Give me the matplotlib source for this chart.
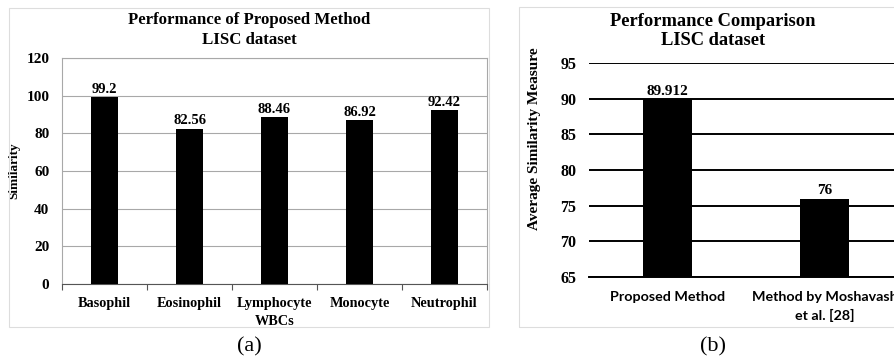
import numpy as np
import matplotlib.pyplot as plt
from matplotlib.patches import Rectangle

# dados
cells = ['Basophil', 'Eosinophil', 'Lymphocyte', 'Monocyte', 'Neutrophil']
similarity = [99.2, 82.56, 88.46, 86.92, 92.42]
sim_labels = ['99.2', '82.56', '88.46', '86.92', '92.42']

methods = ['Proposed Method', 'Method by Moshavash\net al. [28]']
avg_similarity = [89.912, 76]
avg_labels = ['89.912', '76']

serif = 'Liberation Serif'

fig = plt.figure(figsize=(8.95, 3.62), dpi=100)

# molduras cinzentas das duas figuras
fig.patches.append(Rectangle((9/895., 1-327/362.), 480/895., 319/362., transform=fig.transFigure,
                             fill=False, edgecolor='#DDDDDD', lw=0.8))
fig.patches.append(Rectangle((519/895., 1-327/362.), 400/895., 320/362., transform=fig.transFigure,
                             fill=False, edgecolor='#DDDDDD', lw=0.8))

# (a) desempenho do metodo proposto
ax1 = fig.add_axes([62/895., 78/362., 425/895., 226/362.])
x = np.arange(len(cells))
ax1.bar(x, similarity, width=0.31, color='black', zorder=3)
for xi, v, s in zip(x, similarity, sim_labels):
    ax1.annotate(s, (xi, v), xytext=(0, 1), textcoords='offset points', ha='center', va='bottom',
                 fontsize=10.5, fontweight='bold', family=serif)
ax1.set_xlim(-0.5, 4.5)
ax1.set_ylim(0, 120)
ax1.set_yticks(np.arange(0, 121, 20))
ax1.grid(axis='y', color='#A8A8A8', lw=0.8, zorder=0)
ax1.set_xticks(np.arange(-0.5, 5, 1))
ax1.set_xticklabels([])
ax1.set_xticks(x, minor=True)
ax1.set_xticklabels(cells, minor=True, fontsize=10.3, fontweight='bold', family=serif)
ax1.tick_params(axis='x', which='major', length=4, color='#555555', direction='out')
ax1.tick_params(axis='x', which='minor', length=0, pad=9)
ax1.tick_params(axis='y', length=0, pad=9)
for lab in ax1.get_yticklabels():
    lab.set_fontsize(11)
    lab.set_fontweight('bold')
    lab.set_family(serif)
for sp in ax1.spines.values():
    sp.set_color('#A8A8A8')
    sp.set_linewidth(0.8)
ax1.spines['bottom'].set_color('#555555')
ax1.set_ylabel('Similarity', fontsize=9.5, fontweight='bold', family=serif)
ax1.yaxis.set_label_coords(-42/425., 0.5)
ax1.set_xlabel('WBCs', fontsize=10.3, fontweight='bold', family=serif, labelpad=4)

fig.text(249/895., 1-30/362., 'Performance of Proposed Method\nLISC dataset', ha='center', va='center',
         fontsize=12.1, fontweight='bold', family=serif, linespacing=1.25)
fig.text(249/895., 1-347/362., '(a)', ha='center', va='center', fontsize=16, family=serif)

# (b) comparacao
ax2 = fig.add_axes([589/895., 85/362., 314/895., 214/362.])
xb = np.arange(len(methods))
ax2.bar(xb, avg_similarity, width=0.31, color='black', zorder=3)
for xi, v, s in zip(xb, avg_similarity, avg_labels):
    ax2.annotate(s, (xi, v), xytext=(0, 1), textcoords='offset points', ha='center', va='bottom',
                 fontsize=11, fontweight='bold', family=serif)
ax2.set_xlim(-0.5, 1.5)
ax2.set_ylim(65, 95)
ax2.set_yticks(np.arange(65, 96, 5))
ax2.grid(axis='y', color='black', lw=1.4, zorder=0)
ax2.set_xticks(xb)
ax2.set_xticklabels(methods, fontsize=10.3, fontweight='bold', family='Lato', linespacing=1.55)
ax2.tick_params(axis='x', length=0, pad=10)
ax2.tick_params(axis='y', length=0, pad=9)
for lab in ax2.get_yticklabels():
    lab.set_fontsize(11.5)
    lab.set_fontweight('bold')
    lab.set_family(serif)
for sp in ['left', 'right', 'top']:
    ax2.spines[sp].set_visible(False)
ax2.spines['bottom'].set_color('black')
ax2.spines['bottom'].set_linewidth(1.4)
ax2.set_ylabel('Average Similarity Measure', fontsize=11, fontweight='bold', family=serif)
ax2.yaxis.set_label_coords(-48/314., (277-139)/214.)

fig.text(713/895., 1-31/362., 'Performance Comparison\nLISC dataset', ha='center', va='center',
         fontsize=13.3, fontweight='bold', family=serif, linespacing=1.2)
fig.text(713/895., 1-347/362., '(b)', ha='center', va='center', fontsize=16, family=serif)

plt.savefig('out.png', dpi=100)
